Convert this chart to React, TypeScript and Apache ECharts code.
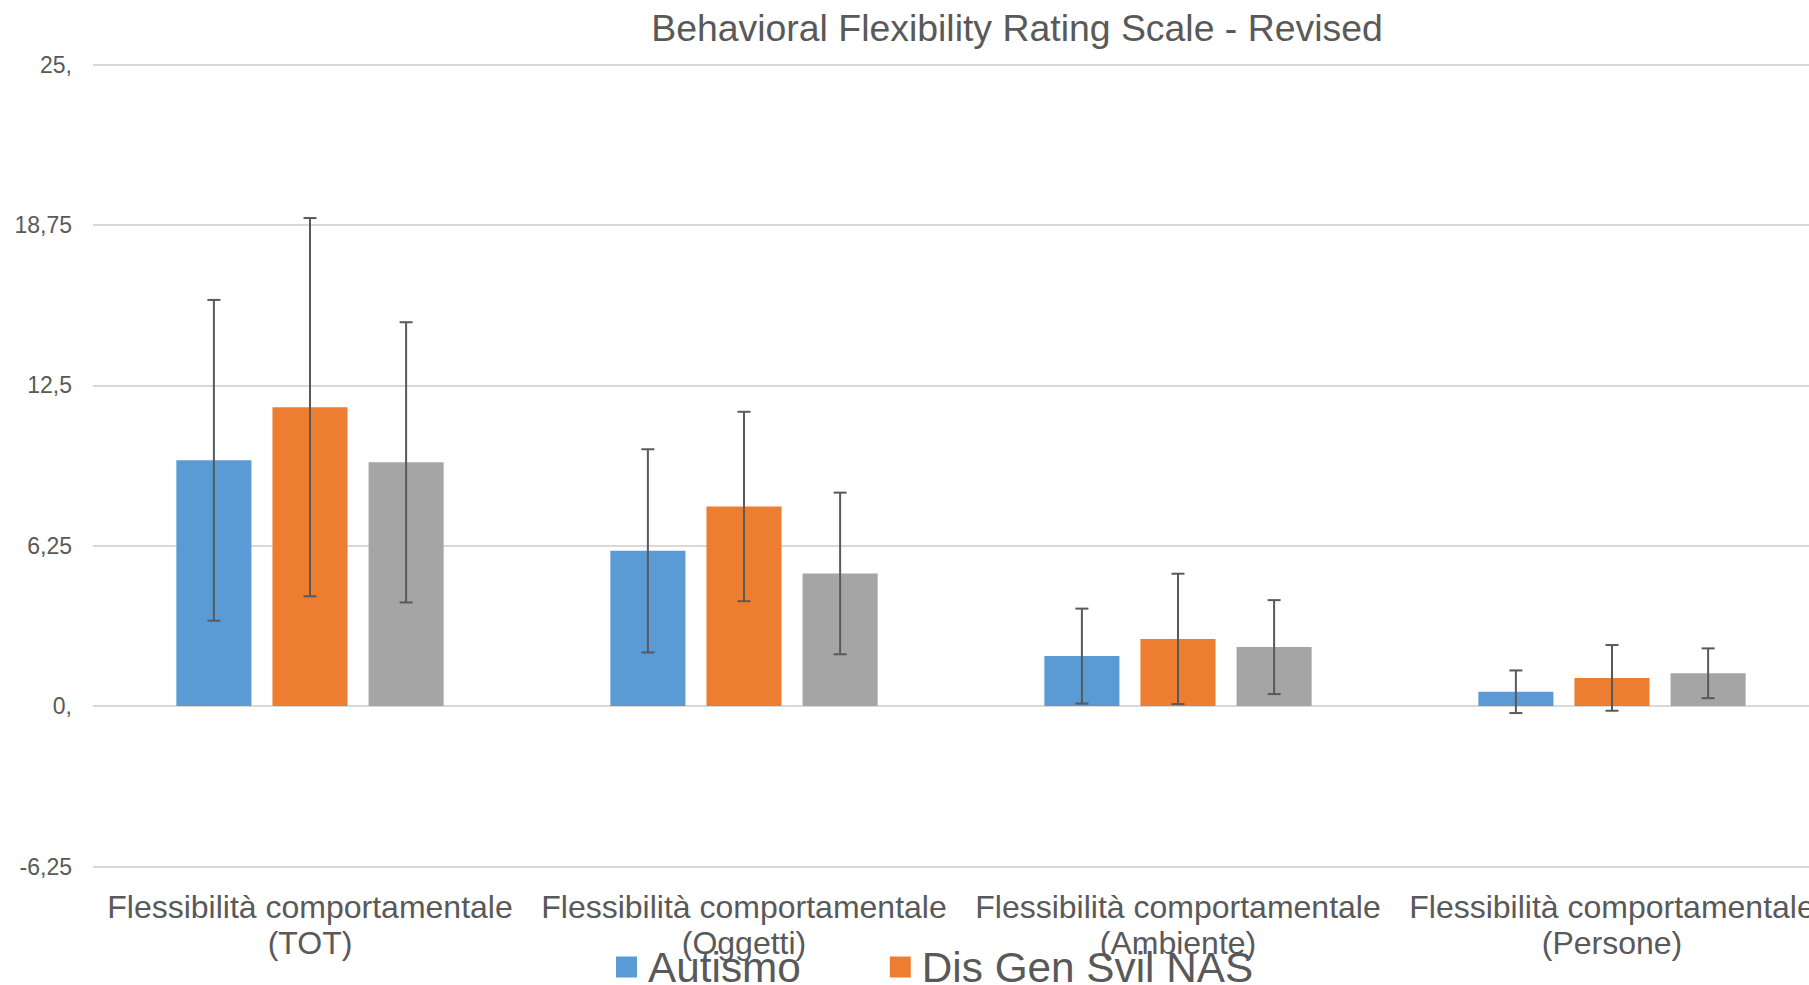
import React, { useEffect, useRef } from "react";
import * as echarts from "echarts";

const categories = [
  "Flessibilità comportamentale\n(TOT)",
  "Flessibilità comportamentale\n(Oggetti)",
  "Flessibilità comportamentale\n(Ambiente)",
  "Flessibilità comportamentale\n(Persone)",
];
const seriesNames = ["Autismo", "Dis Gen Svil NAS", "Gruppo 3"];
const legendNames = ["Autismo", "Dis Gen Svil NAS"];
const autismo = [9.58, 6.05, 1.95, 0.56];
const autismoSD = [6.25, 3.96, 1.85, 0.83];
const disGen = [11.65, 7.78, 2.62, 1.1];
const disGenSD = [7.37, 3.69, 2.54, 1.28];
const gruppo3 = [9.5, 5.17, 2.3, 1.28];
const gruppo3SD = [5.46, 3.15, 1.83, 0.97];
const yTickLabels = ["-6,25", "0,", "6,25", "12,5", "18,75", "25,"];
const colors = ["#5b9bd5", "#ed7d31", "#a5a5a5"];

const BAR_FRAC = 0.173;
const BAR_GAP = 0.28;
const FONT = "'Liberation Sans', Arial, sans-serif";

export default function App() {
  const ref = useRef<HTMLDivElement>(null);
  useEffect(() => {
    document.body.style.margin = "0";
    const chart = echarts.init(ref.current!, undefined, { renderer: "svg" });
    const means = [autismo, disGen, gruppo3];
    const sds = [autismoSD, disGenSD, gruppo3SD];
    const barSeries = means.map((m, k) => ({
      name: seriesNames[k],
      type: "bar",
      data: m,
      barWidth: `${BAR_FRAC * 100}%`,
      barGap: `${BAR_GAP * 100}%`,
      itemStyle: { color: colors[k] },
      z: 2,
    }));
    const errSeries = means.map((m, k) => ({
      type: "custom",
      name: seriesNames[k] + " err",
      data: m.map((v, i) => [i, v - sds[k][i], v + sds[k][i]]),
      encode: { x: 0, y: [1, 2] },
      z: 5,
      silent: true,
      renderItem: (params: any, api: any) => {
        const x = api.value(0);
        const lo = api.coord([x, api.value(1)]);
        const hi = api.coord([x, api.value(2)]);
        const catW = api.size([1, 0])[0];
        const bw = catW * BAR_FRAC;
        const cx = lo[0] + (k - 1) * bw * (1 + BAR_GAP);
        const cap = 6.5;
        const st = { stroke: "#595959", lineWidth: 2 };
        return {
          type: "group",
          children: [
            { type: "line", shape: { x1: cx, y1: hi[1], x2: cx, y2: lo[1] }, style: st },
            { type: "line", shape: { x1: cx - cap, y1: hi[1], x2: cx + cap, y2: hi[1] }, style: st },
            { type: "line", shape: { x1: cx - cap, y1: lo[1], x2: cx + cap, y2: lo[1] }, style: st },
          ],
        };
      },
    }));
    chart.setOption({
      animation: false,
      textStyle: { fontFamily: FONT },
      title: {
        text: "Behavioral Flexibility Rating Scale - Revised",
        left: 1012,
        textAlign: "center",
        top: 4,
        textStyle: { fontFamily: FONT, fontSize: 37.4, fontWeight: "normal", color: "#595959" },
      },
      legend: {
        data: legendNames,
        left: 611,
        top: 941,
        itemWidth: 21,
        itemHeight: 21,
        itemGap: 89,
        icon: "rect",
        textStyle: { fontFamily: FONT, fontSize: 42.3, color: "#595959", padding: [0, 0, 0, 6] },
      },
      grid: { left: 93, right: 203, top: 64.6, bottom: 118.5, containLabel: false },
      xAxis: {
        type: "category",
        data: categories,
        axisLine: { show: false, onZero: false },
        axisTick: { show: false },
        axisLabel: {
          interval: 0,
          fontSize: 32,
          lineHeight: 36,
          color: "#595959",
          margin: 22,
          fontFamily: FONT,
        },
      },
      yAxis: {
        type: "value",
        min: -6.25,
        max: 25,
        interval: 6.25,
        axisLine: { show: false },
        axisTick: { show: false },
        splitLine: { lineStyle: { color: "#d9d9d9", width: 2 } },
        axisLabel: {
          fontSize: 23,
          color: "#595959",
          margin: 21,
          fontFamily: FONT,
          formatter: (v: number, i: number) => yTickLabels[i],
        },
      },
      series: [...barSeries, ...errSeries],
    });
    return () => chart.dispose();
  }, []);
  return (
    <div style={{ position: "fixed", left: 0, top: 0, width: 1809, height: 985, overflow: "hidden", background: "#fff" }}>
      <div ref={ref} style={{ width: 2032, height: 985 }} />
    </div>
  );
}
